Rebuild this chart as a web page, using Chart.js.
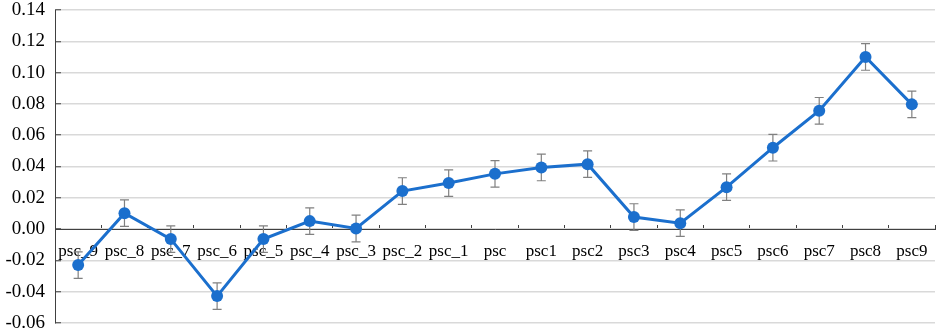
<!DOCTYPE html>
<html>
<head>
<meta charset="utf-8">
<script src="https://cdn.jsdelivr.net/npm/chart.js@4/dist/chart.umd.min.js"></script>
<style>
  html, body { margin: 0; padding: 0; background: #fff; }
  #wrap { width: 941px; height: 333px; }
</style>
</head>
<body>
<div id="wrap"><canvas id="chart"></canvas></div>
<script>
// Kategori dan nilai
const categories = ['psc_9', 'psc_8', 'psc_7', 'psc_6', 'psc_5', 'psc_4', 'psc_3', 'psc_2', 'psc_1', 'psc',
                    'psc1', 'psc2', 'psc3', 'psc4', 'psc5', 'psc6', 'psc7', 'psc8', 'psc9'];
const means = [-0.023, 0.0102, -0.0064, -0.0428, -0.0064, 0.0051, 0.0004, 0.0243, 0.0294, 0.0353,
               0.0394, 0.0415, 0.0077, 0.0038, 0.0268, 0.0520, 0.0756, 0.1100, 0.0797];
const errors = [0.0085, 0.0085, 0.0085, 0.0085, 0.0085, 0.0085, 0.0085, 0.0085, 0.0085, 0.0085,
                0.0085, 0.0085, 0.0085, 0.0085, 0.0085, 0.0085, 0.0085, 0.0085, 0.0085];
const yTicks = [-0.06, -0.04, -0.02, 0.00, 0.02, 0.04, 0.06, 0.08, 0.10, 0.12, 0.14];

const SERIF = '"Times New Roman", "Liberation Serif", "DejaVu Serif", serif';
Chart.defaults.font.family = SERIF;
const X_FONT = { family: SERIF, size: 17 };
const Y_FONT = { family: SERIF, size: 19 };

// Plugin error bar, digambar lewat skala chart
const errorBars = {
    id: 'errorBars',
    beforeDatasetsDraw(chart) {
        const ctx = chart.ctx;
        const xs = chart.scales.x;
        const ys = chart.scales.y;
        ctx.save();
        ctx.strokeStyle = '#808080';
        ctx.lineWidth = 1.2;
        means.forEach((m, i) => {
            const x = xs.getPixelForValue(i);
            const top = ys.getPixelForValue(m + errors[i]);
            const bot = ys.getPixelForValue(m - errors[i]);
            ctx.beginPath();
            ctx.moveTo(x, top); ctx.lineTo(x, bot);
            ctx.moveTo(x - 4.5, top); ctx.lineTo(x + 4.5, top);
            ctx.moveTo(x - 4.5, bot); ctx.lineTo(x + 4.5, bot);
            ctx.stroke();
        });
        ctx.restore();
    }
};

new Chart(document.getElementById('chart'), {
    type: 'line',
    data: {
        labels: categories,
        datasets: [{
            data: means,
            borderColor: '#1b6fcd',
            backgroundColor: '#1b6fcd',
            borderWidth: 3,
            pointRadius: 6,
            pointHoverRadius: 6,
            pointBorderWidth: 0,
            tension: 0
        }]
    },
    options: {
        responsive: true,
        maintainAspectRatio: false,
        animation: false,
        layout: { padding: 0 },
        plugins: { legend: { display: false }, tooltip: { enabled: false } },
        scales: {
            x: {
                position: { y: 0 },
                offset: true,
                afterFit(scale) { scale.paddingLeft = 0; scale.paddingRight = 0; },
                grid: {
                    offset: true,
                    drawOnChartArea: false,
                    drawTicks: true,
                    tickLength: -5,
                    tickColor: '#404040',
                    tickWidth: 1
                },
                border: { display: true, color: '#404040', width: 1 },
                ticks: { color: '#000', font: X_FONT, padding: 17, maxRotation: 0, autoSkip: false }
            },
            y: {
                min: -0.06,
                max: 0.14,
                afterFit(scale) {
                    scale.width = 55;
                    scale.paddingTop = 10;
                    scale.paddingBottom = 10;
                },
                afterBuildTicks(scale) { scale.ticks = yTicks.map(v => ({ value: v })); },
                grid: {
                    color: '#d9d9d9',
                    lineWidth: 1.5,
                    drawTicks: true,
                    tickLength: -6,
                    tickColor: '#404040',
                    tickWidth: 1
                },
                border: { display: true, color: '#404040', width: 1 },
                ticks: {
                    color: '#000',
                    font: Y_FONT,
                    padding: 16,
                    callback: v => v.toFixed(2)
                }
            }
        }
    },
    plugins: [errorBars]
});
</script>
</body>
</html>
